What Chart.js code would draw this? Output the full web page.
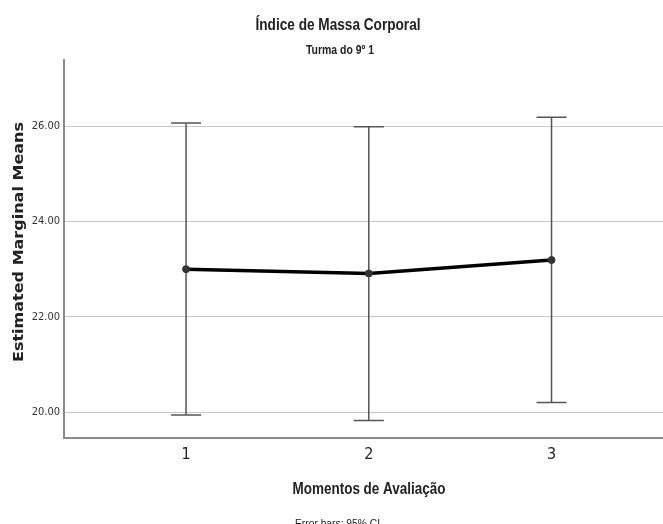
<!DOCTYPE html>
<html>
<head>
<meta charset="utf-8">
<script src="https://cdn.jsdelivr.net/npm/chart.js@4.4.0/dist/chart.umd.min.js"></script>
<style>
  html, body { margin: 0; padding: 0; background: #fff; }
  #wrap { width: 663px; height: 524px; }
</style>
</head>
<body>
<div id="wrap"><canvas id="chart" width="663" height="524"></canvas></div>
<script>
// data
const moments = [1, 2, 3];
const momentLabels = ['1', '2', '3'];
const means = [23.00, 22.91, 23.19];
const ciLow = [19.94, 19.82, 20.20];
const ciHigh = [26.07, 25.99, 26.19];
const yTicks = [20, 22, 24, 26];

const titleText = 'Índice de Massa Corporal';
const subtitleText = 'Turma do 9º 1';
const xTitle = 'Momentos de Avaliação';
const yTitle = 'Estimated Marginal Means';
const footnote = 'Error bars: 95% CI';

const sans = "'Liberation Sans', Arial, sans-serif";
const condensed = "'DejaVu Sans Condensed', 'Liberation Sans Narrow', 'Liberation Sans', sans-serif";

// text at a given font size, squeezed sideways to span a given width
function squeezedText(ctx, text, cx, baseline, size, weight, width, family) {
  ctx.save();
  ctx.font = weight + ' ' + size + 'px ' + (family || sans);
  const w = ctx.measureText(text).width;
  ctx.translate(cx, baseline);
  ctx.scale(width / w, 1);
  ctx.textAlign = 'center';
  ctx.textBaseline = 'alphabetic';
  ctx.fillText(text, 0, 0);
  ctx.restore();
}

const errorBars = {
  id: 'errorBars',
  beforeDatasetsDraw(chart) {
    const ctx = chart.ctx;
    const x = chart.scales.x;
    const y = chart.scales.y;
    ctx.save();
    ctx.strokeStyle = '#555';
    ctx.lineWidth = 1.5;
    moments.forEach((m, i) => {
      const px = x.getPixelForValue(m);
      const top = y.getPixelForValue(ciHigh[i]);
      const bot = y.getPixelForValue(ciLow[i]);
      ctx.beginPath();
      ctx.moveTo(px, top); ctx.lineTo(px, bot);
      ctx.moveTo(px - 15, top); ctx.lineTo(px + 15, top);
      ctx.moveTo(px - 15, bot); ctx.lineTo(px + 15, bot);
      ctx.stroke();
    });
    ctx.restore();
  }
};

const labels = {
  id: 'labels',
  afterDraw(chart) {
    const ctx = chart.ctx;
    ctx.save();
    ctx.fillStyle = '#222';

    squeezedText(ctx, titleText, 338, 30, 16, 'bold', 165);
    squeezedText(ctx, subtitleText, 340, 54, 12.5, 'bold', 68);
    squeezedText(ctx, xTitle, 369, 494, 16.5, 'bold', 153);
    squeezedText(ctx, footnote, 337.5, 527, 11.5, 'normal', 85);

    ctx.translate(23, 242);
    ctx.rotate(-Math.PI / 2);
    squeezedText(ctx, yTitle, 0, 0, 14, 'bold', 240, "'DejaVu Sans', Verdana, sans-serif");
    ctx.restore();
  }
};

new Chart(document.getElementById('chart'), {
  type: 'line',
  data: {
    datasets: [{
      data: moments.map((m, i) => ({ x: m, y: means[i] })),
      borderColor: '#000',
      borderWidth: 3.5,
      pointRadius: 3.5,
      pointBackgroundColor: '#333',
      pointBorderColor: '#333',
      pointBorderWidth: 1,
      tension: 0
    }]
  },
  options: {
    responsive: false,
    animation: false,
    events: [],
    layout: { autoPadding: false, padding: { top: 60, left: 0, right: 0, bottom: 0 } },
    plugins: {
      legend: { display: false },
      title: { display: false },
      tooltip: { enabled: false }
    },
    scales: {
      x: {
        type: 'linear',
        min: 0.332,
        max: 3.61,
        afterBuildTicks: (s) => { s.ticks = moments.map(v => ({ value: v })); },
        afterFit: (s) => { s.height = 86; },
        grid: { display: false, drawTicks: false },
        border: { color: '#8a8a8a', width: 2 },
        ticks: {
          padding: 7,
          color: '#222',
          font: { family: condensed, size: 16 },
          callback: (v) => momentLabels[moments.indexOf(v)] || ''
        }
      },
      y: {
        min: 19.455,
        max: 27.39,
        afterBuildTicks: (s) => { s.ticks = yTicks.map(v => ({ value: v })); },
        afterFit: (s) => { s.width = 64; },
        grid: { color: '#c8c8c8', lineWidth: 1, drawTicks: false },
        border: { color: '#8a8a8a', width: 2 },
        ticks: {
          padding: 4,
          color: '#333',
          font: { family: condensed, size: 11 },
          callback: (v) => v.toFixed(2)
        }
      }
    }
  },
  plugins: [errorBars, labels]
});
</script>
</body>
</html>
